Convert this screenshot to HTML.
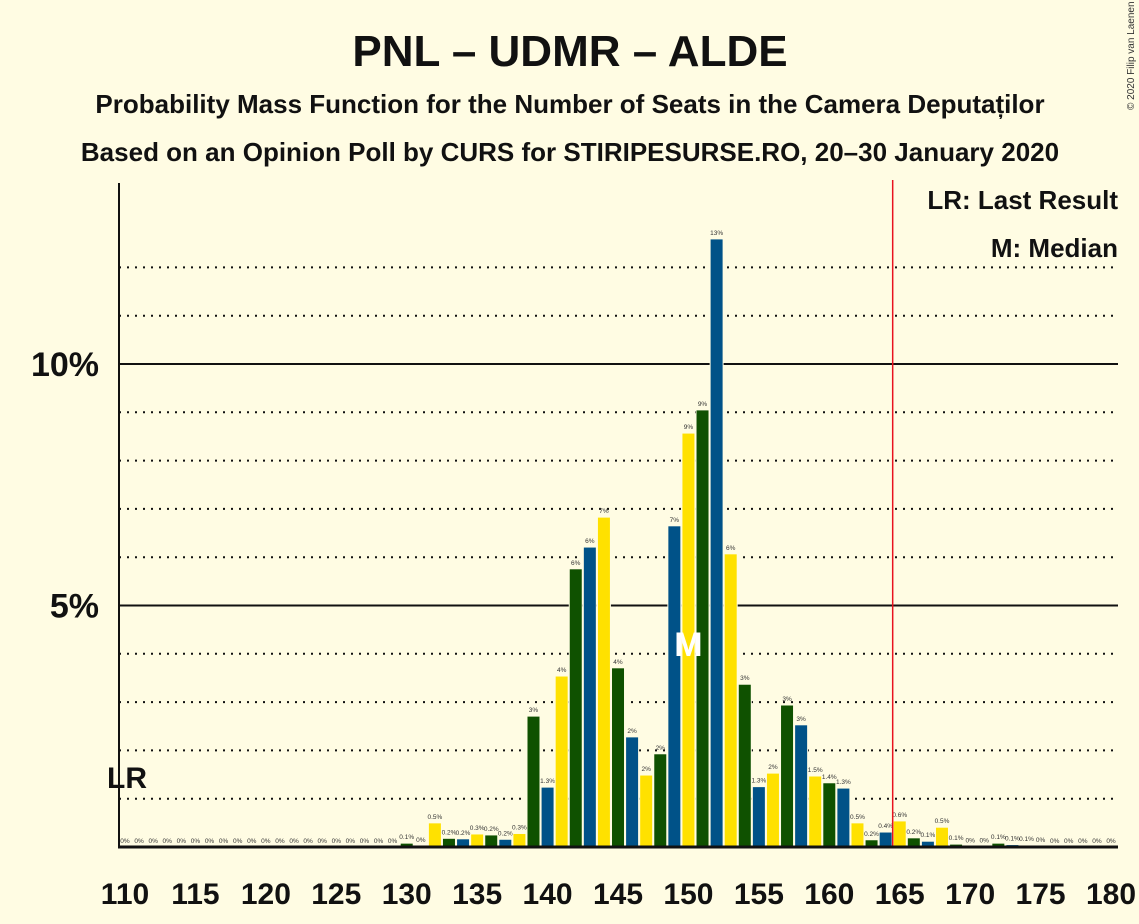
<!DOCTYPE html>
<html><head><meta charset="utf-8"><style>
html,body{margin:0;padding:0;background:#fffce3;}
svg{display:block;font-family:"Liberation Sans",sans-serif;}
</style></head><body>
<svg id="chart" width="1139" height="924" viewBox="0 0 1139 924" xmlns="http://www.w3.org/2000/svg">
<rect width="1139" height="924" fill="#fffce3"/>
<text x="570" y="66" text-anchor="middle" font-size="44" font-weight="bold" fill="#111">PNL – UDMR – ALDE</text>
<text x="570" y="113" text-anchor="middle" font-size="26" font-weight="bold" fill="#111">Probability Mass Function for the Number of Seats in the Camera Deputaților</text>
<text x="570" y="161" text-anchor="middle" font-size="26" font-weight="bold" fill="#111">Based on an Opinion Poll by CURS for STIRIPESURSE.RO, 20–30 January 2020</text>
<text transform="translate(1134,110) rotate(-90)" font-size="10" fill="#333">© 2020 Filip van Laenen</text>
<g id="grid"></g>
<g id="bars"></g>
<g id="axes"></g>
<text x="1118" y="209" text-anchor="end" font-size="26" font-weight="bold" fill="#111">LR: Last Result</text>
<text x="1118" y="257" text-anchor="end" font-size="26" font-weight="bold" fill="#111">M: Median</text>
</svg>
<script>
const seats = [];
for (let s = 110; s <= 180; s++) seats.push(s);
const probs = [0,0,0,0,0,0,0,0,0,0, 0,0,0,0,0,0,0,0,0,0,
  0.08,0.02,0.5,0.18,0.17,0.27,0.25,0.16,0.28,2.71,
  1.24,3.54,5.76,6.21,6.83,3.71,2.28,1.49,1.93,6.65,
  8.57,9.05,12.59,6.07,3.37,1.25,1.53,2.94,2.53,1.47,
  1.33,1.22,0.5,0.15,0.31,0.54,0.19,0.12,0.41,0.06,
  0.01,0.01,0.08,0.05,0.04,0.02,0,0,0,0,0];
const labels = ["0%","0%","0%","0%","0%","0%","0%","0%","0%","0%","0%","0%","0%","0%","0%","0%","0%","0%","0%","0%",
  "0.1%","0%","0.5%","0.2%","0.2%","0.3%","0.2%","0.2%","0.3%","3%",
  "1.3%","4%","6%","6%","7%","4%","2%","2%","2%","7%",
  "9%","9%","13%","6%","3%","1.3%","2%","3%","3%","1.5%",
  "1.4%","1.3%","0.5%","0.2%","0.4%","0.6%","0.2%","0.1%","0.5%","0.1%",
  "0%","0%","0.1%","0.1%","0.1%","0%","0%","0%","0%","0%","0%"];
const xTicks = [110,115,120,125,130,135,140,145,150,155,160,165,170,175,180];
const yTicks = [5,10];
const medianSeat = 150;
const lastResultSeat = 110;
const majorityLine = 164.5;

const NS = "http://www.w3.org/2000/svg";
const x = s => 125 + (s - 110) * 14.086;
const y = v => 847 - v * 48.3;
const colors = ["#ffe100", "#0f5100", "#005288"];
function mk(tag, attrs, parent){const e=document.createElementNS(NS,tag);for(const k in attrs)e.setAttribute(k,attrs[k]);parent.appendChild(e);return e;}
const grid = document.getElementById('grid'), bars = document.getElementById('bars'), axes = document.getElementById('axes');
for (let p = 1; p <= 12; p++) {
  const l = mk('line', {x1:119, x2:1118, y1:y(p), y2:y(p), stroke:'#111', 'stroke-width':2, 'stroke-dasharray': p%5===0?'none':'2 6'}, grid);
  
  
}
seats.forEach((s, i) => {
  const v = probs[i];
  if (v > 0) {
    const r = mk('rect', {x:x(s)-6.5, y:y(v), width:13, height:847-y(v), fill:colors[s%3], stroke:'#fffce3', 'stroke-width':1}, bars);
    
    
  }
  const t = mk('text', {x:x(s), y:y(v)-4, 'text-anchor':'middle', 'font-size':6.5, fill:'#333'}, bars);
  t.textContent = labels[i];
  
  
});
const m = mk('text', {x:x(medianSeat), y:y(4)+2, 'text-anchor':'middle', 'font-size':34, 'font-weight':'bold', fill:'#fff'}, bars);
m.textContent = 'M';


const red = mk('line', {x1:x(majorityLine), x2:x(majorityLine), y1:180, y2:847, stroke:'#e8121e', 'stroke-width':1.5}, axes);


const lr = mk('text', {x:x(lastResultSeat)+2, y:788, 'text-anchor':'middle', 'font-size':30, 'font-weight':'bold', fill:'#111'}, axes);
lr.textContent = 'LR';


const ya = mk('line', {x1:119, x2:119, y1:183, y2:848, stroke:'#111', 'stroke-width':2}, axes);


const xa = mk('line', {x1:118, x2:1118, y1:847, y2:847, stroke:'#111', 'stroke-width':3}, axes);


yTicks.forEach(p => {
  const t = mk('text', {x:99, y:y(p)+12, 'text-anchor':'end', 'font-size':34, 'font-weight':'bold', fill:'#111'}, axes);
  t.textContent = p + '%';
  
  
});
xTicks.forEach(s => {
  const t = mk('text', {x:x(s), y:904, 'text-anchor':'middle', 'font-size':30, 'font-weight':'bold', fill:'#111'}, axes);
  t.textContent = s;
  
  
});
</script>
</body></html>
